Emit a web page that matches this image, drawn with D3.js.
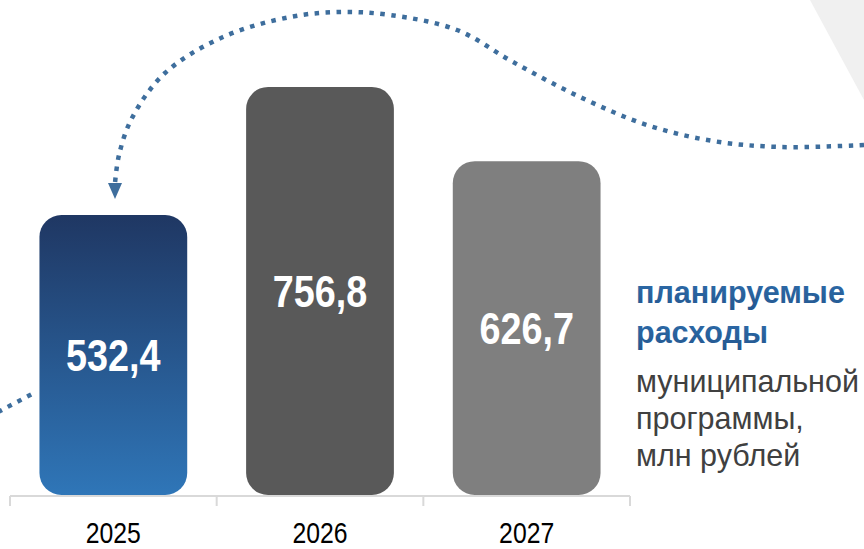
<!DOCTYPE html>
<html>
<head>
<meta charset="utf-8">
<script src="https://cdn.jsdelivr.net/npm/d3@7"></script>
<style>
  html, body { margin: 0; padding: 0; background: #fff; }
  svg { display: block; }
</style>
</head>
<body>
<svg id="chart" width="864" height="549"></svg>
<script>
// ---- data ----
const categories = ["2025", "2026", "2027"];
const values = [532.4, 756.8, 626.7];
const valueLabels = ["532,4", "756,8", "626,7"];
const titleBold = ["планируемые", "расходы"];
const titleRegular = ["муниципальной", "программы,", "млн рублей"];

// decorative dotted arc guide points (x, y)
const arcPoints = [[864,145],[780,147],[713,141],[647,125],[580,97],[513,62],[457,30],[390,15],[340,12],[290,17],[223,37],[165,73],[132,118],[119,155],[115,183]];
const leftArcPoints = [[-2,412],[34,393]];

const W = 864, H = 549;
const svg = d3.select("#chart");
const narrow = 0.84; // condensed look (Arial Narrow-like)

// background accent
svg.append("polygon")
  .attr("points", "810,0 864,0 864,100")
  .attr("fill", "#f0f0f0");

const defs = svg.append("defs");
const grad = defs.append("linearGradient").attr("id", "blueGrad")
  .attr("x1", 0).attr("y1", 0).attr("x2", 0).attr("y2", 1);
grad.append("stop").attr("offset", "0%").attr("stop-color", "#1f3763");
grad.append("stop").attr("offset", "100%").attr("stop-color", "#2f76b8");

const textGrad = defs.append("linearGradient").attr("id", "textGrad")
  .attr("x1", 0).attr("y1", 0).attr("x2", 0).attr("y2", 1);
textGrad.append("stop").attr("offset", "0%").attr("stop-color", "#2f6fae");
textGrad.append("stop").attr("offset", "100%").attr("stop-color", "#24578f");

const barFills = ["url(#blueGrad)", "#595959", "#7f7f7f"];

// scales
const x = d3.scaleBand().domain(categories).range([10, 630]).paddingInner(0.285).paddingOuter(0.1425);
const y = d3.scaleLinear().domain([41.5, 800]).range([495, 62.3]);

// dotted arc
const line = d3.line().curve(d3.curveCatmullRom.alpha(0.5));
const dotColor = "#3e6e9d";
svg.append("path")
  .attr("d", line(arcPoints))
  .attr("fill", "none")
  .attr("stroke", dotColor)
  .attr("stroke-width", 4.5)
  .attr("stroke-dasharray", "4.5 6.5");
svg.append("path")
  .attr("d", d3.line()(leftArcPoints))
  .attr("fill", "none")
  .attr("stroke", dotColor)
  .attr("stroke-width", 4.5)
  .attr("stroke-dasharray", "4.5 6.5");
// arrow head
const ax = arcPoints[arcPoints.length - 1][0], ay = arcPoints[arcPoints.length - 1][1];
svg.append("path")
  .attr("d", `M${ax - 7},${ay} L${ax + 7},${ay} L${ax},${ay + 16} Z`)
  .attr("fill", dotColor);

// bars
const bars = svg.append("g");
bars.selectAll("rect").data(values).join("rect")
  .attr("x", (d, i) => x(categories[i]))
  .attr("y", d => y(d))
  .attr("width", x.bandwidth())
  .attr("height", d => y.range()[0] - y(d))
  .attr("rx", 22).attr("ry", 22)
  .attr("fill", (d, i) => barFills[i]);

// value labels
bars.selectAll("g.lbl").data(values).join("g")
  .attr("class", "lbl")
  .attr("transform", (d, i) => `translate(${x(categories[i]) + x.bandwidth() / 2},${(y(d) + y.range()[0]) / 2}) scale(${narrow},1)`)
  .append("text")
  .attr("dy", "0.36em")
  .attr("text-anchor", "middle")
  .attr("fill", "#fff")
  .attr("font-family", "'Liberation Sans', Arial, sans-serif")
  .attr("font-weight", "bold")
  .attr("font-size", 45)
  .text((d, i) => valueLabels[i]);

// axis
const axisY = 496;
const axis = svg.append("g");
const x0 = x.range()[0];
const boundaries = d3.range(categories.length + 1).map(i => x0 + i * (x.range()[1] - x0) / categories.length);
axis.append("line")
  .attr("x1", x.range()[0]).attr("x2", x.range()[1])
  .attr("y1", axisY).attr("y2", axisY)
  .attr("stroke", "#d9d9d9").attr("stroke-width", 2);
axis.selectAll("line.tick").data(boundaries).join("line")
  .attr("class", "tick")
  .attr("x1", d => d).attr("x2", d => d)
  .attr("y1", axisY).attr("y2", axisY + 10)
  .attr("stroke", "#d9d9d9").attr("stroke-width", 2);
axis.selectAll("g.yr").data(categories).join("g")
  .attr("class", "yr")
  .attr("transform", d => `translate(${x(d) + x.bandwidth() / 2},543) scale(${narrow},1)`)
  .append("text")
  .attr("text-anchor", "middle")
  .attr("fill", "#000")
  .attr("font-family", "'Liberation Sans', Arial, sans-serif")
  .attr("font-size", 29.5)
  .text(d => d);

// side title
const tg = svg.append("g").attr("font-family", "'Liberation Sans', Arial, sans-serif").attr("font-size", 30.5);
tg.selectAll("text.b").data(titleBold).join("text")
  .attr("class", "b")
  .attr("x", 636)
  .attr("y", (d, i) => 303 + i * 39.5)
  .attr("font-weight", "bold")
  .attr("fill", "url(#textGrad)")
  .text(d => d);
tg.selectAll("text.r").data(titleRegular).join("text")
  .attr("class", "r")
  .attr("x", 636)
  .attr("y", (d, i) => 392 + i * 37)
  .attr("fill", "#404040")
  .text(d => d);
</script>
</body>
</html>
